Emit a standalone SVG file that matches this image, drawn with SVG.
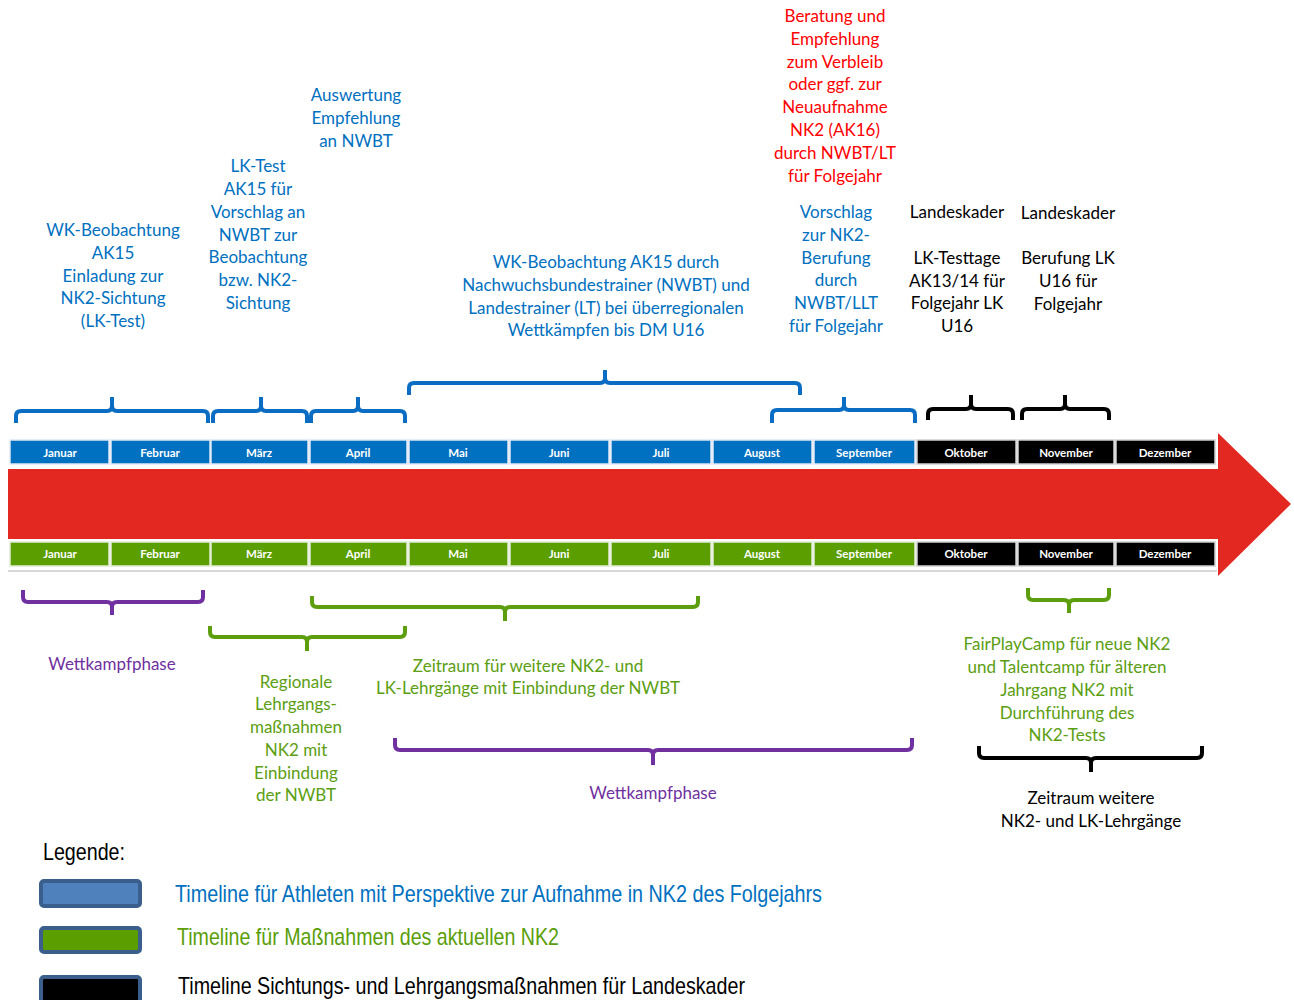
<svg xmlns="http://www.w3.org/2000/svg" width="1294" height="1000" viewBox="0 0 1294 1000">
<style>
text{font-family:Lato,"Open Sans","DejaVu Sans",sans-serif;font-size:17px;text-anchor:middle}
.blue{fill:#0070c0}.red{fill:#ff0000}.grn{fill:#5b9e12}.pur{fill:#7030a0}.blk{fill:#000}
.br{fill:none;stroke-width:4;stroke-linejoin:round;stroke-linecap:butt}
.bb{stroke:#0a6cc2}.bg{stroke:#5c9e0e}.bp{stroke:#7030a0}.bk{stroke:#000}
.mb{fill:#0070c0;stroke:#dfe8f3;stroke-width:1.5}
.mg{fill:#5a9e00;stroke:#e2ecd6;stroke-width:1.5}
.mk{fill:#000;stroke:#d0d0d0;stroke-width:1.5}
.ml{font-size:11.5px;font-weight:bold;fill:#fff}
.lg{font-family:"Liberation Sans",Arial,sans-serif;font-size:24px;text-anchor:start}
.lbox{stroke:#3b5f8c;stroke-width:4;}
</style>

<g id="arrow">
<polygon points="8,469 1218,469 1218,433 1291,504 1218,576 1218,539 8,539" fill="#e32822"/>
<line x1="8" y1="571" x2="1217" y2="571" stroke="#cccccc" stroke-width="1.5"/>
</g>

<g id="top-timeline">
<rect class="mb" x="10" y="440" width="99" height="24"/>
<rect class="mb" x="111" y="440" width="99" height="24"/>
<rect class="mb" x="211" y="440" width="97" height="24"/>
<rect class="mb" x="310" y="440" width="97" height="24"/>
<rect class="mb" x="409" y="440" width="99" height="24"/>
<rect class="mb" x="510" y="440" width="99" height="24"/>
<rect class="mb" x="611" y="440" width="100" height="24"/>
<rect class="mb" x="713" y="440" width="99" height="24"/>
<rect class="mb" x="814" y="440" width="101" height="24"/>
<rect class="mk" x="917" y="440" width="99" height="24"/>
<rect class="mk" x="1018" y="440" width="96" height="24"/>
<rect class="mk" x="1116" y="440" width="99" height="24"/>
<text class="ml" x="60" y="457">Januar</text>
<text class="ml" x="160" y="457">Februar</text>
<text class="ml" x="259" y="457">März</text>
<text class="ml" x="358" y="457">April</text>
<text class="ml" x="458" y="457">Mai</text>
<text class="ml" x="559" y="457">Juni</text>
<text class="ml" x="661" y="457">Juli</text>
<text class="ml" x="762" y="457">August</text>
<text class="ml" x="864" y="457">September</text>
<text class="ml" x="966" y="457">Oktober</text>
<text class="ml" x="1066" y="457">November</text>
<text class="ml" x="1165" y="457">Dezember</text>
</g>

<g id="bottom-timeline">
<rect class="mg" x="10" y="542" width="99" height="24"/>
<rect class="mg" x="111" y="542" width="99" height="24"/>
<rect class="mg" x="211" y="542" width="97" height="24"/>
<rect class="mg" x="310" y="542" width="97" height="24"/>
<rect class="mg" x="409" y="542" width="99" height="24"/>
<rect class="mg" x="510" y="542" width="99" height="24"/>
<rect class="mg" x="611" y="542" width="100" height="24"/>
<rect class="mg" x="713" y="542" width="99" height="24"/>
<rect class="mg" x="814" y="542" width="101" height="24"/>
<rect class="mk" x="917" y="542" width="99" height="24"/>
<rect class="mk" x="1018" y="542" width="96" height="24"/>
<rect class="mk" x="1116" y="542" width="99" height="24"/>
<text class="ml" x="60" y="558">Januar</text>
<text class="ml" x="160" y="558">Februar</text>
<text class="ml" x="259" y="558">März</text>
<text class="ml" x="358" y="558">April</text>
<text class="ml" x="458" y="558">Mai</text>
<text class="ml" x="559" y="558">Juni</text>
<text class="ml" x="661" y="558">Juli</text>
<text class="ml" x="762" y="558">August</text>
<text class="ml" x="864" y="558">September</text>
<text class="ml" x="966" y="558">Oktober</text>
<text class="ml" x="1066" y="558">November</text>
<text class="ml" x="1165" y="558">Dezember</text>
</g>

<g id="connectors">
<path class="br bb" d="M16,423 L16,416 Q16,411 21,411 L107,411 Q112,411 112,406 L112,397 M112,406 Q112,411 117,411 L203,411 Q208,411 208,416 L208,423"/>
<path class="br bb" d="M213,423 L213,416 Q213,411 218,411 L256,411 Q261,411 261,406 L261,397 M261,406 Q261,411 266,411 L302,411 Q307,411 307,416 L307,423"/>
<path class="br bb" d="M311,423 L311,416 Q311,411 316,411 L353,411 Q358,411 358,406 L358,397 M358,406 Q358,411 363,411 L400,411 Q405,411 405,416 L405,423"/>
<path class="br bb" d="M409,395 L409,388 Q409,383 414,383 L600,383 Q605,383 605,378 L605,370 M605,378 Q605,383 610,383 L795,383 Q800,383 800,388 L800,395"/>
<path class="br bb" d="M772,423 L772,415 Q772,410 777,410 L839,410 Q844,410 844,405 L844,397 M844,405 Q844,410 849,410 L910,410 Q915,410 915,415 L915,423"/>
<path class="br bk" d="M928,420 L928,414 Q928,409 933,409 L966,409 Q971,409 971,404 L971,395 M971,404 Q971,409 976,409 L1008,409 Q1013,409 1013,414 L1013,420"/>
<path class="br bk" d="M1022,420 L1022,414 Q1022,409 1027,409 L1060,409 Q1065,409 1065,404 L1065,395 M1065,404 Q1065,409 1070,409 L1104,409 Q1109,409 1109,414 L1109,420"/>

<path class="br bp" d="M23,590 L23,597 Q23,602 28,602 L107,602 Q112,602 112,607 L112,615 M112,607 Q112,602 117,602 L198,602 Q203,602 203,597 L203,590"/>
<path class="br bg" d="M210,626 L210,632 Q210,637 215,637 L302,637 Q307,637 307,642 L307,651 M307,642 Q307,637 312,637 L400,637 Q405,637 405,632 L405,626"/>
<path class="br bg" d="M312,596 L312,602 Q312,607 317,607 L500,607 Q505,607 505,612 L505,621 M505,612 Q505,607 510,607 L693,607 Q698,607 698,602 L698,596"/>
<path class="br bp" d="M395,738 L395,745 Q395,750 400,750 L648,750 Q653,750 653,755 L653,765 M653,755 Q653,750 658,750 L907,750 Q912,750 912,745 L912,738"/>
<path class="br bg" d="M1028,588 L1028,595 Q1028,600 1033,600 L1064,600 Q1069,600 1069,605 L1069,613 M1069,605 Q1069,600 1074,600 L1104,600 Q1109,600 1109,595 L1109,588"/>
<path class="br bk" d="M979,746 L979,753 Q979,758 984,758 L1086,758 Q1091,758 1091,763 L1091,772 M1091,763 Q1091,758 1096,758 L1197,758 Q1202,758 1202,753 L1202,746"/>
</g>

<g id="note-wk-jan">
<text class="blue" x="113" y="236">WK-Beobachtung</text>
<text class="blue" x="113" y="259">AK15</text>
<text class="blue" x="113" y="282">Einladung zur</text>
<text class="blue" x="113" y="304">NK2-Sichtung</text>
<text class="blue" x="113" y="327">(LK-Test)</text>
</g>
<g id="note-lktest">
<text class="blue" x="258" y="172">LK-Test</text>
<text class="blue" x="258" y="195">AK15 für</text>
<text class="blue" x="258" y="218">Vorschlag an</text>
<text class="blue" x="258" y="241">NWBT zur</text>
<text class="blue" x="258" y="263">Beobachtung</text>
<text class="blue" x="258" y="286">bzw. NK2-</text>
<text class="blue" x="258" y="309">Sichtung</text>
</g>
<g id="note-auswertung">
<text class="blue" x="356" y="101">Auswertung</text>
<text class="blue" x="356" y="124">Empfehlung</text>
<text class="blue" x="356" y="147">an NWBT</text>
</g>
<g id="note-wk-mai">
<text class="blue" x="606" y="268">WK-Beobachtung AK15 durch</text>
<text class="blue" x="606" y="291">Nachwuchsbundestrainer (NWBT) und</text>
<text class="blue" x="606" y="314">Landestrainer (LT) bei überregionalen</text>
<text class="blue" x="606" y="336">Wettkämpfen bis DM U16</text>
</g>
<g id="note-beratung">
<text class="red" x="835" y="22">Beratung und</text>
<text class="red" x="835" y="45">Empfehlung</text>
<text class="red" x="835" y="68">zum Verbleib</text>
<text class="red" x="835" y="90">oder ggf. zur</text>
<text class="red" x="835" y="113">Neuaufnahme</text>
<text class="red" x="835" y="136">NK2 (AK16)</text>
<text class="red" x="835" y="159">durch NWBT/LT</text>
<text class="red" x="835" y="182">für Folgejahr</text>
</g>
<g id="note-vorschlag">
<text class="blue" x="836" y="218">Vorschlag</text>
<text class="blue" x="836" y="241">zur NK2-</text>
<text class="blue" x="836" y="264">Berufung</text>
<text class="blue" x="836" y="286">durch</text>
<text class="blue" x="836" y="309">NWBT/LLT</text>
<text class="blue" x="836" y="332">für Folgejahr</text>
</g>
<g id="note-lk-okt">
<text class="blk" x="957" y="218">Landeskader</text>
<text class="blk" x="957" y="264">LK-Testtage</text>
<text class="blk" x="957" y="287">AK13/14 für</text>
<text class="blk" x="957" y="309">Folgejahr LK</text>
<text class="blk" x="957" y="332">U16</text>
</g>
<g id="note-lk-nov">
<text class="blk" x="1068" y="219">Landeskader</text>
<text class="blk" x="1068" y="264">Berufung LK</text>
<text class="blk" x="1068" y="287">U16 für</text>
<text class="blk" x="1068" y="310">Folgejahr</text>
</g>

<g id="note-wkphase1">
<text class="pur" x="112" y="670">Wettkampfphase</text>
</g>
<g id="note-regionale">
<text class="grn" x="296" y="688">Regionale</text>
<text class="grn" x="296" y="710">Lehrgangs-</text>
<text class="grn" x="296" y="733">maßnahmen</text>
<text class="grn" x="296" y="756">NK2 mit</text>
<text class="grn" x="296" y="779">Einbindung</text>
<text class="grn" x="296" y="801">der NWBT</text>
</g>
<g id="note-zeitraum-nk2">
<text class="grn" x="528" y="672">Zeitraum für weitere NK2- und</text>
<text class="grn" x="528" y="694">LK-Lehrgänge mit Einbindung der NWBT</text>
</g>
<g id="note-wkphase2">
<text class="pur" x="653" y="799">Wettkampfphase</text>
</g>
<g id="note-fairplay">
<text class="grn" x="1067" y="650">FairPlayCamp für neue NK2</text>
<text class="grn" x="1067" y="673">und Talentcamp für älteren</text>
<text class="grn" x="1067" y="696">Jahrgang NK2 mit</text>
<text class="grn" x="1067" y="719">Durchführung des</text>
<text class="grn" x="1067" y="741">NK2-Tests</text>
</g>
<g id="note-zeitraum-lk">
<text class="blk" x="1091" y="804">Zeitraum weitere</text>
<text class="blk" x="1091" y="827">NK2- und LK-Lehrgänge</text>
</g>

<g id="legend">
<text class="lg blk" x="43" y="860" textLength="82" lengthAdjust="spacingAndGlyphs">Legende:</text>
<rect class="lbox" x="41" y="881" width="99" height="25" rx="3" fill="#4f81bd"/>
<rect class="lbox" x="41" y="928" width="99" height="24" rx="3" fill="#5a9e00"/>
<rect class="lbox" x="41" y="977" width="99" height="26" rx="3" fill="#000"/>
<text class="lg" x="175" y="902" fill="#0070c0" textLength="647" lengthAdjust="spacingAndGlyphs">Timeline für Athleten mit Perspektive zur Aufnahme in NK2 des Folgejahrs</text>
<text class="lg" x="177" y="945" fill="#5a9e0a" textLength="382" lengthAdjust="spacingAndGlyphs">Timeline für Maßnahmen des aktuellen NK2</text>
<text class="lg" x="178" y="994" fill="#000" textLength="567" lengthAdjust="spacingAndGlyphs">Timeline Sichtungs- und Lehrgangsmaßnahmen für Landeskader</text>
</g>
</svg>
